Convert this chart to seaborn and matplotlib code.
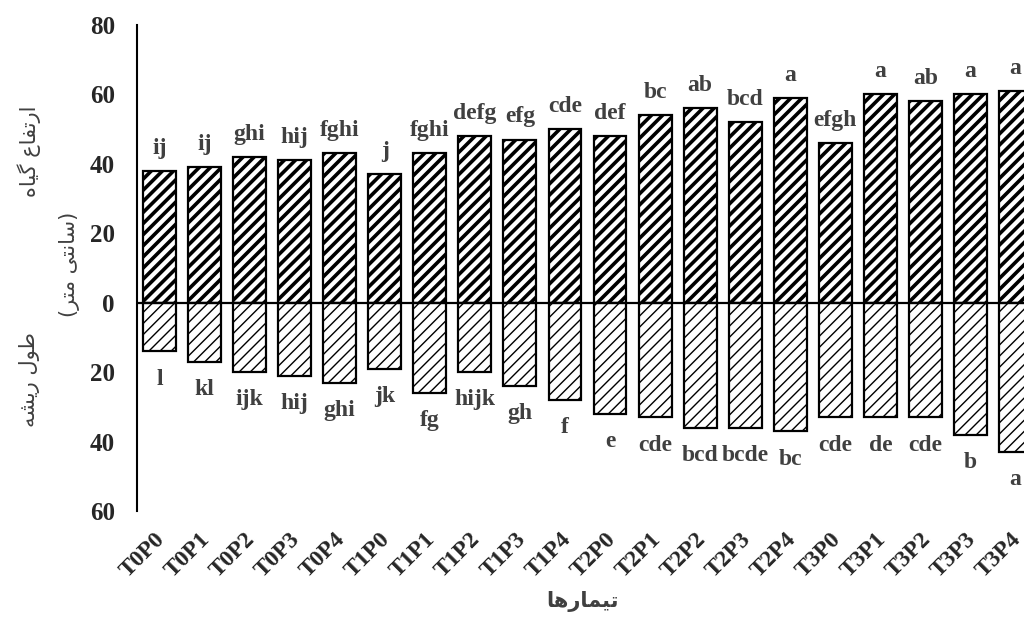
import matplotlib
matplotlib.use("Agg")
import matplotlib.pyplot as plt
import matplotlib.transforms as mtransforms
import seaborn as sns
import numpy as np

# ---- data ----
treatments = ["T0P0", "T0P1", "T0P2", "T0P3", "T0P4",
              "T1P0", "T1P1", "T1P2", "T1P3", "T1P4",
              "T2P0", "T2P1", "T2P2", "T2P3", "T2P4",
              "T3P0", "T3P1", "T3P2", "T3P3", "T3P4"]
plant_height = [38, 39, 42, 41, 43, 37, 43, 48, 47, 50,
                48, 54, 56, 52, 59, 46, 60, 58, 60, 61]
root_length = [14, 17, 20, 21, 23, 19, 26, 20, 24, 28,
               32, 33, 36, 36, 37, 33, 33, 33, 38, 43]
height_letters = ["ij", "ij", "ghi", "hij", "fghi", "j", "fghi", "defg", "efg", "cde",
                  "def", "bc", "ab", "bcd", "a", "efgh", "a", "ab", "a", "a"]
root_letters = ["l", "kl", "ijk", "hij", "ghi", "jk", "fg", "hijk", "gh", "f",
                "e", "cde", "bcd", "bcde", "bc", "cde", "de", "cde", "b", "a"]
y_ticks = [-60, -40, -20, 0, 20, 40, 60, 80]
y_ticklabels = ["60", "40", "20", "0", "20", "40", "60", "80"]

# Persian labels (presentation forms, visual order)
label_height = "\uFEE9\uFE8E\uFBFF\uFB94 \uFEC9\uFE8E\uFED4\uFE97\uFEAD\uFE8D"   # ارتفاع گیاه
label_unit = "(\uFEAE\uFE98\uFEE3 \uFBFD\uFE98\uFEE7\uFE8E\uFEB3)"             # (سانتی متر)
label_root = "\uFEEA\uFEB8\uFBFE\uFEAD \uFEDD\uFEEE\uFEC3"                     # طول ریشه
label_x = "\uFE8E\uFEEB\uFEAD\uFE8E\uFEE4\uFBFF\uFE97"                         # تیمارها

sns.set_style("white")
plt.rcParams["font.family"] = ["Liberation Serif", "DejaVu Sans"]

fig = plt.figure(figsize=(10.24, 6.24), dpi=100)
ax = fig.add_axes([137 / 1024, 113 / 624, 901 / 1024, 486 / 624])

neg_root = [-v for v in root_length]

with plt.rc_context({"hatch.linewidth": 2.6}):
    sns.barplot(x=treatments, y=plant_height, color="white", edgecolor="black",
                linewidth=1.6, width=0.73, hatch="///", ax=ax, saturation=1)
n_top = len(ax.patches)
for p in ax.patches:
    if hasattr(p, "set_hatch_linewidth"):
        p.set_hatch_linewidth(2.6)
with plt.rc_context({"hatch.linewidth": 1.0}):
    sns.barplot(x=treatments, y=neg_root, color="white", edgecolor="black",
                linewidth=1.6, width=0.73, hatch="///", ax=ax, saturation=1)
for p in ax.patches[n_top:]:
    if hasattr(p, "set_hatch_linewidth"):
        p.set_hatch_linewidth(1.0)

ax.axhline(0, color="black", lw=1.6, zorder=5)

ax.set_xlim(-0.5, 19.5)
ax.set_ylim(-60, 80)
ax.set_yticks(y_ticks)
ax.set_yticklabels(y_ticklabels, fontsize=18, fontweight="bold",
                   family="Liberation Serif")
ax.tick_params(axis="y", length=0, pad=16)
ax.tick_params(axis="x", length=0, pad=13)
ax.set_xticks(range(len(treatments)))
ax.set_xticklabels(treatments, rotation=45, ha="right", rotation_mode="anchor",
                   fontsize=17, fontweight="bold", family="Liberation Serif")
shift = mtransforms.ScaledTranslation(-0.05, 0, fig.dpi_scale_trans)
for lab in ax.get_xticklabels():
    lab.set_transform(lab.get_transform() + shift)
ax.set_xlabel("")
ax.set_ylabel("")

for s in ["top", "right", "bottom"]:
    ax.spines[s].set_visible(False)
ax.spines["left"].set_color("black")
ax.spines["left"].set_linewidth(1.5)

for i, (h, lab) in enumerate(zip(plant_height, height_letters)):
    ax.text(i, h + 3.5, lab, ha="center", va="bottom", fontsize=17,
            fontweight="bold", color="#404040", family="Liberation Serif")
for i, (r, lab) in enumerate(zip(root_length, root_letters)):
    ax.text(i, -r - 5.0, lab, ha="center", va="top", fontsize=17,
            fontweight="bold", color="#404040", family="Liberation Serif")

pers_kw = dict(family=["DejaVu Sans"], fontsize=15, color="#404040",
               rotation=90, ha="center", va="center")
fig.text(29 / 1024, 1 - 151 / 624, label_height, **pers_kw)
fig.text(70 / 1024, 1 - 264 / 624, label_unit, **pers_kw)
fig.text(29 / 1024, 1 - 380 / 624, label_root, **pers_kw)
fig.text(582 / 1024, 1 - 602 / 624, label_x, family=["DejaVu Sans"], fontsize=15,
         color="#404040", fontweight="bold", ha="center", va="center")

fig.savefig("out.png", dpi=100)
